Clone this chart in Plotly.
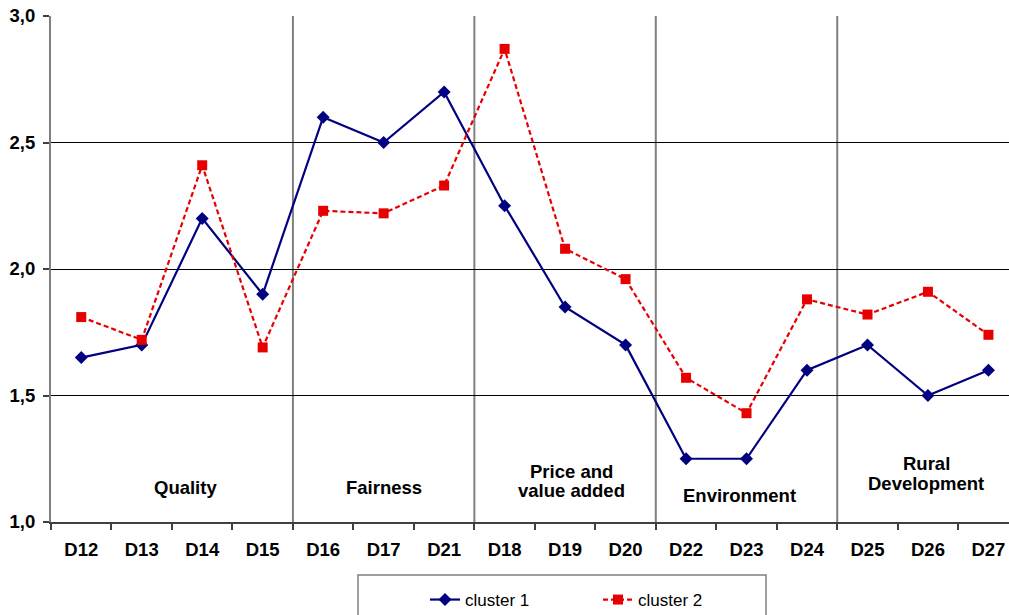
import plotly.graph_objects as go

# Dimension codes in display order
categories = ["D12", "D13", "D14", "D15", "D16", "D17", "D21", "D18",
              "D19", "D20", "D22", "D23", "D24", "D25", "D26", "D27"]

cluster1 = [1.65, 1.70, 2.20, 1.90, 2.60, 2.50, 2.70, 2.25,
            1.85, 1.70, 1.25, 1.25, 1.60, 1.70, 1.50, 1.60]
cluster2 = [1.81, 1.72, 2.41, 1.69, 2.23, 2.22, 2.33, 2.87,
            2.08, 1.96, 1.57, 1.43, 1.88, 1.82, 1.91, 1.74]

# Thematic groups: (label lines, first index, last index)
groups = [
    (["Quality"], 0, 3),
    (["Fairness"], 4, 6),
    (["Price and", "value added"], 7, 9),
    (["Environment"], 10, 12),
    (["Rural", "Development"], 13, 15),
]

y_ticks = [1.0, 1.5, 2.0, 2.5, 3.0]

FONT = "Arial, Liberation Sans, sans-serif"
BOLD_SIZE = 18.5
W, H = 1009, 615
ML, MR, MT, MB = 51, 0, 16, 93

fig = go.Figure()
fig.add_trace(go.Scatter(
    x=categories, y=cluster1, name="cluster 1", mode="lines+markers",
    line=dict(color="#000080", width=2.2),
    marker=dict(symbol="diamond", size=10, color="#000080"),
))
fig.add_trace(go.Scatter(
    x=categories, y=cluster2, name="cluster 2", mode="lines+markers",
    line=dict(color="#e60000", width=2.2, dash="5px,3px"),
    marker=dict(symbol="square", size=10, color="#e60000"),
))

# Separators between groups
for _, first, last in groups[1:]:
    fig.add_shape(type="line", xref="x", yref="paper",
                  x0=first - 0.5, x1=first - 0.5, y0=0, y1=1,
                  line=dict(color="#808080", width=2), layer="below")

# Group labels inside the plot, near the bottom
plot_h = H - MT - MB
def ypix_to_paper(py):
    return (H - MB - py) / plot_h

label_rows = {
    "Quality": 487, "Fairness": 487,
    "Price and": 471, "value added": 490,
    "Environment": 495,
    "Rural": 463, "Development": 483,
}
x_shift = {0: 0.22, 1: 0, 2: 0.1, 3: -0.12, 4: -0.03}
for gi, (lines, first, last) in enumerate(groups):
    xc = (first + last) / 2 + x_shift[gi]
    for txt in lines:
        fig.add_annotation(
            x=xc, y=ypix_to_paper(label_rows[txt]), xref="x", yref="paper",
            text=f"<b>{txt}</b>", showarrow=False,
            font=dict(family=FONT, size=BOLD_SIZE, color="#000000"),
            xanchor="center", yanchor="middle",
        )

# Legend frame
def xpix_to_paper(px):
    return (px - ML) / (W - ML - MR)

fig.add_shape(type="rect", xref="paper", yref="paper",
              x0=xpix_to_paper(358), x1=xpix_to_paper(766),
              y0=ypix_to_paper(640), y1=ypix_to_paper(575),
              line=dict(color="#808080", width=1.5), fillcolor="rgba(0,0,0,0)")

fig.update_layout(
    width=W, height=H,
    margin=dict(l=ML, r=MR, t=MT, b=MB, pad=0, autoexpand=False),
    paper_bgcolor="white", plot_bgcolor="white",
    separators=",.",
    font=dict(family=FONT, color="#000000"),
    showlegend=True,
    legend=dict(
        orientation="h", x=xpix_to_paper(425), y=1 - 582 / H,
        xref="paper", yref="container",
        xanchor="left", yanchor="top",
        font=dict(family=FONT, size=17, color="#000000"),
        bgcolor="rgba(0,0,0,0)", borderwidth=0,
        entrywidth=128, entrywidthmode="pixels",
    ),
    xaxis=dict(
        type="category", range=[-0.5, 15.34],
        showgrid=False, zeroline=False,
        showline=True, linecolor="#404040", linewidth=1.5,
        ticks="outside", tickson="boundaries", ticklen=6,
        tickcolor="#404040", tickwidth=1.5,
        tickfont=dict(family=FONT, size=BOLD_SIZE, color="#000000", weight="bold"),
        ticklabelstandoff=10,
    ),
    yaxis=dict(
        range=[1.0, 3.0], tickvals=y_ticks, tickformat=".1f",
        showgrid=True, gridcolor="#000000", gridwidth=1,
        zeroline=False,
        showline=True, linecolor="#808080", linewidth=2,
        ticks="outside", ticklen=6, tickcolor="#404040", tickwidth=1.5,
        tickfont=dict(family=FONT, size=BOLD_SIZE, color="#000000", weight="bold"),
        ticklabelstandoff=4,
    ),
)

fig.write_html("out.html")
